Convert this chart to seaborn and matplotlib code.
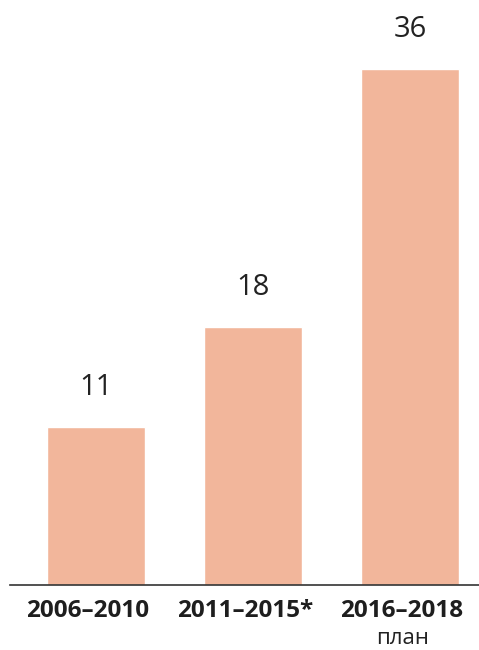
import matplotlib
matplotlib.use("Agg")
import matplotlib.pyplot as plt
import matplotlib.transforms as mtransforms
import seaborn as sns

# --- Data ---
periods = ["2006–2010", "2011–2015*", "2016–2018"]
values = [11, 18, 36]
sublabels = ["", "", "план"]

BAR_COLOR = "#f2b69b"

sns.set_theme(style="white")
plt.rcParams["font.family"] = ["Open Sans", "DejaVu Sans"]

fig = plt.figure(figsize=(4.79, 6.5), dpi=100)
ax = fig.add_axes([10 / 479, 65 / 650, 469 / 479, 585 / 650])

sns.barplot(x=periods, y=values, color=BAR_COLOR, saturation=1,
            width=0.63, ax=ax)

ax.set_xlim(-86 / 157, 383 / 157)
ax.set_ylim(0, 36 * 585 / 516)

for c in ax.containers:
    ax.bar_label(c, labels=[str(v) for v in values], padding=18,
                 fontsize=21, color="#222222")

for s in ["left", "right", "top"]:
    ax.spines[s].set_visible(False)
ax.spines["bottom"].set_color("#333333")
ax.spines["bottom"].set_linewidth(1.2)

ax.set_yticks([])
ax.tick_params(axis="x", length=0, pad=10)
ax.set_xticklabels(periods, fontsize=17.5, fontweight="bold", color="#1e1e1e")
offset = mtransforms.ScaledTranslation(-8 / 100, 0, fig.dpi_scale_trans)
for lbl in ax.get_xticklabels():
    lbl.set_transform(lbl.get_transform() + offset)

trans = mtransforms.blended_transform_factory(ax.transData, fig.transFigure)
for i, sub in enumerate(sublabels):
    if sub:
        ax.text(i - 7 / 157, 1 / 650, sub, transform=trans, ha="center",
                va="bottom", fontsize=16, color="#222222")

ax.set_xlabel("")
ax.set_ylabel("")

fig.savefig("out.png", dpi=100)
